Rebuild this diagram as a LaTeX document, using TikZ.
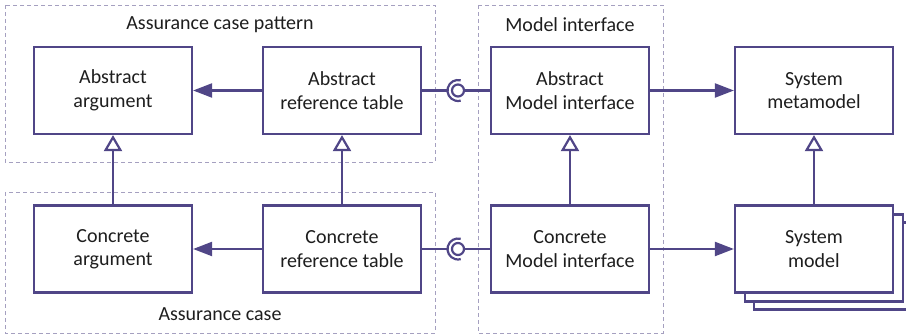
\documentclass[tikz,border=0pt]{standalone}
\usepackage{fontspec}
\setmainfont{Carlito}
\usetikzlibrary{arrows.meta}
\definecolor{linec}{RGB}{80,70,135}
\definecolor{dashc}{RGB}{165,160,192}
\definecolor{textc}{RGB}{30,30,30}
\begin{document}
\begin{tikzpicture}[x=1pt,y=-1pt,
	box/.style={draw=linec,line width=2.2pt,fill=white,minimum width=158pt,minimum height=87pt,align=center,font=\fontsize{20}{23.5}\selectfont,text=textc},
	grp/.style={draw=dashc,line width=0.8pt,dash pattern=on 4pt off 3pt},
	ttl/.style={font=\fontsize{20}{23.5}\selectfont,text=textc},
	conn/.style={draw=linec,line width=2.2pt},
	uses/.style={conn,-{Triangle[length=19pt,width=14pt]}},
	gen/.style={conn,-{Triangle[open,length=16pt,width=18pt,fill=white]}},
	ball/.style={circle,draw=linec,line width=2.2pt,fill=white,minimum size=12pt,inner sep=0pt}]
		\useasboundingbox (0,0) rectangle (906,336);
		\draw[grp](5,5) rectangle (435,162);
		\draw[grp](5,192) rectangle (435,333);
		\draw[grp](478,5) rectangle (663,333);
		\node[ttl] (tpat) at (220,25) {Assurance case pattern};
		\node[ttl] (tcase) at (220,314) {Assurance case};
		\node[ttl] (tmi) at (570,25) {Model interface};
		\node[box] (aarg) at (113,90.5) {Abstract\\argument};
		\node[box] (aref) at (342,90.5) {Abstract\\reference table};
		\node[box] (ami) at (570,90.5) {Abstract\\Model interface};
		\node[box] (smeta) at (814,90.5) {System\\metamodel};
		\node[box] (carg) at (113,249) {Concrete\\argument};
		\node[box] (cref) at (342,249) {Concrete\\reference table};
		\node[box] (cmi) at (570,249) {Concrete\\Model interface};
		\node[box] (smod3) at (833,266) {};
		\node[box] (smod2) at (824,258) {};
		\node[box] (smod) at (814,249) {System\\model};
		\node[ball] (b1) at (458,90.5) {};
		\node[ball] (b2) at (458,249) {};
		\draw[uses](aref) -- (aarg);
		\draw[uses](cref) -- (carg);
		\draw[uses](ami) -- (smeta);
		\draw[uses](cmi) -- (smod);
		\draw[gen](carg) -- (aarg);
		\draw[gen](cref) -- (aref);
		\draw[gen](cmi) -- (ami);
		\draw[gen](smod) -- (smeta);
		\draw[conn](b1) -- (ami);
		\draw[conn](b2) -- (cmi);
		\draw[conn](aref.east) -- ([xshift=-10.5pt]b1.center);
		\draw[conn](cref.east) -- ([xshift=-10.5pt]b2.center);
		\draw[conn]([shift={(75:10.5pt)}]b1.center) arc[start angle=75,end angle=285,radius=10.5pt];
		\draw[conn]([shift={(75:10.5pt)}]b2.center) arc[start angle=75,end angle=285,radius=10.5pt];
	    \end{tikzpicture}
\end{document}
